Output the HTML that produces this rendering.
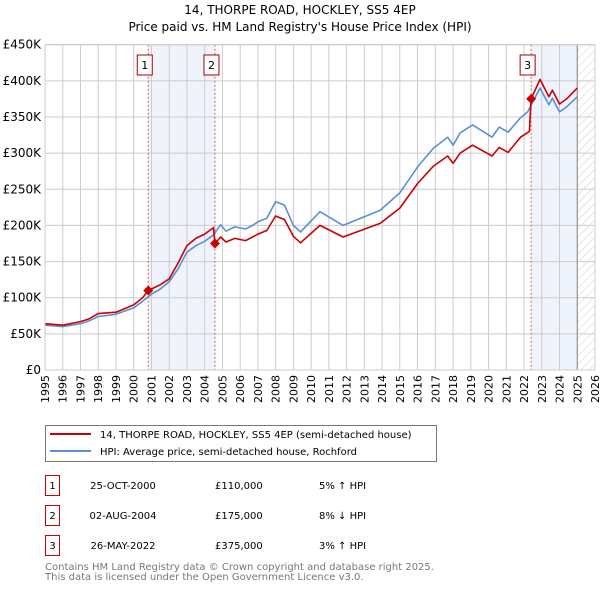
<!DOCTYPE html>
<html><head><meta charset="utf-8"><style>
body{margin:0;background:#fff;font-family:"Liberation Sans","DejaVu Sans",sans-serif;}
svg text{font-family:"DejaVu Sans","Liberation Sans",sans-serif;}
</style></head><body>
<svg id="c" width="600" height="590" xmlns="http://www.w3.org/2000/svg">
<defs><pattern id="hatch" width="6" height="6" patternUnits="userSpaceOnUse" patternTransform="rotate(45)"><line x1="0" y1="0" x2="0" y2="6" stroke="#ccc" stroke-width="1"/></pattern></defs>
<text x="300" y="14" text-anchor="middle" font-size="12" fill="#000">14, THORPE ROAD, HOCKLEY, SS5 4EP</text>
<text x="300" y="31" text-anchor="middle" font-size="12" fill="#000">Price paid vs. HM Land Registry's House Price Index (HPI)</text>
<g id="plot"></g>
<g>
<rect x="45.5" y="425.5" width="391" height="36" fill="#fff" stroke="#777"/>
<line x1="50" y1="434" x2="91" y2="434" stroke="#cc0000" stroke-width="2"/>
<text x="100" y="438" font-size="10">14, THORPE ROAD, HOCKLEY, SS5 4EP (semi-detached house)</text>
<line x1="50" y1="451" x2="91" y2="451" stroke="#5b8fd4" stroke-width="2"/>
<text x="100" y="455" font-size="10">HPI: Average price, semi-detached house, Rochford</text>
</g>
<g font-size="10">
<rect x="45.5" y="475.5" width="14" height="20" fill="#fff" stroke="#cc0000"/><text x="52.5" y="489" text-anchor="middle">1</text>
<text x="123" y="489" text-anchor="middle">25-OCT-2000</text><text x="215" y="489">£110,000</text><text x="319" y="489">5% ↑ HPI</text>
<rect x="45.5" y="505.5" width="14" height="20" fill="#fff" stroke="#cc0000"/><text x="52.5" y="519" text-anchor="middle">2</text>
<text x="123" y="519" text-anchor="middle">02-AUG-2004</text><text x="215" y="519">£175,000</text><text x="319" y="519">8% ↓ HPI</text>
<rect x="45.5" y="535.5" width="14" height="20" fill="#fff" stroke="#cc0000"/><text x="52.5" y="549" text-anchor="middle">3</text>
<text x="123" y="549" text-anchor="middle">26-MAY-2022</text><text x="215" y="549">£375,000</text><text x="319" y="549">3% ↑ HPI</text>
</g>
<text x="45" y="570" font-size="10" fill="#777">Contains HM Land Registry data © Crown copyright and database right 2025.</text>
<text x="45" y="580" font-size="10" fill="#777">This data is licensed under the Open Government Licence v3.0.</text>
</svg>
<script>
const hpiYears=[1995,1996,1997,1997.5,1998,1999,2000,2000.5,2001,2001.5,2002,2002.5,2003,2003.5,2004,2004.5,2004.9,2005.2,2005.7,2006.3,2006.7,2007,2007.5,2008,2008.5,2009,2009.4,2010.5,2011.8,2013.9,2015,2016,2016.9,2017.7,2018,2018.4,2019.1,2020.2,2020.6,2021.1,2021.8,2022.2,2022.9,2023.4,2023.6,2024,2024.4,2025];
const hpiValues=[62,60,64,68,74,77,86,95,105,112,122,140,163,172,178,187,201,192,198,195,200,205,210,233,228,200,191,219,200,221,245,281,307,322,311,328,339,322,336,329,349,357,390,367,376,357,364,378];
const propYears=[1995,1996,1997,1997.5,1998,1999,2000,2000.5,2000.82,2001,2001.5,2002,2002.5,2003,2003.5,2004,2004.5,2004.58,2004.9,2005.2,2005.7,2006.3,2006.7,2007,2007.5,2008,2008.5,2009,2009.4,2010.5,2011.8,2013.9,2015,2016,2016.9,2017.7,2018,2018.4,2019.1,2020.2,2020.6,2021.1,2021.8,2022.3,2022.4,2022.9,2023.4,2023.6,2024,2024.4,2025];
const propValues=[64,62,67,71,78,80,90,100,110,112,118,126,148,172,182,188,197,175,184,177,182,179,184,188,193,213,208,185,176,200,184,203,224,258,282,296,286,300,311,296,308,301,322,330,375,402,378,387,368,375,390];
const saleYears=[2000.82,2004.58,2022.4];
const saleValues=[110,175,375];
const saleLabels=["1","2","3"];
const yTicks=[0,50,100,150,200,250,300,350,400,450];
const yTickLabels=["£0","£50K","£100K","£150K","£200K","£250K","£300K","£350K","£400K","£450K"];
const xTicks=[1995,1996,1997,1998,1999,2000,2001,2002,2003,2004,2005,2006,2007,2008,2009,2010,2011,2012,2013,2014,2015,2016,2017,2018,2019,2020,2021,2022,2023,2024,2025,2026];

const L=45,R=595,T=44.7,B=370,X0=1995,X1=2026,YMAX=450;
const xs=v=>L+(v-X0)/(X1-X0)*(R-L);
const ys=v=>B-v/YMAX*(B-T);
const NS="http://www.w3.org/2000/svg";
const g=document.getElementById('plot');
function mk(t,a,p){const e=document.createElementNS(NS,t);for(const k in a)e.setAttribute(k,a[k]);(p||g).appendChild(e);return e;}

let e=mk('rect',{x:xs(saleYears[0]),y:T,width:xs(saleYears[1])-xs(saleYears[0]),height:B-T,fill:'#eef3fc'});


e=mk('rect',{x:xs(saleYears[2]),y:T,width:xs(2025)-xs(saleYears[2]),height:B-T,fill:'#eef3fc'});


e=mk('rect',{x:xs(2025),y:T,width:R-xs(2025),height:B-T,fill:'url(#hatch)'});



yTicks.forEach((v,i)=>{
  const l=mk('line',{x1:L,x2:R,y1:ys(v),y2:ys(v),stroke:'#ccc','stroke-width':1});
  
  
  const t=mk('text',{x:L-4,y:ys(v)+4,'text-anchor':'end','font-size':12,fill:'#000'});
  t.textContent=yTickLabels[i];
  
  
});
xTicks.forEach(v=>{
  const l=mk('line',{x1:xs(v),x2:xs(v),y1:T,y2:B,stroke:'#ccc','stroke-width':1});
  
  
  const tx=xs(v)+4, ty=375;
  const t=mk('text',{x:tx,y:ty,'text-anchor':'end','font-size':11,fill:'#000',transform:`rotate(-90 ${tx} ${ty})`});
  t.textContent=v;
  
  
});
e=mk('line',{x1:xs(2025),x2:xs(2025),y1:T,y2:B,stroke:'#888','stroke-width':1});



saleYears.forEach((v,i)=>{
  const l=mk('line',{x1:xs(v),x2:xs(v),y1:T,y2:B,stroke:'#e06060','stroke-width':1,'stroke-dasharray':'2,2'});
  
  
  const r=mk('rect',{x:xs(v)-11,y:55,width:15,height:20,fill:'#fff',stroke:'#aa0000'});
  
  
  const t=mk('text',{x:xs(v)-3.5,y:69,'text-anchor':'middle','font-size':11});
  t.textContent=saleLabels[i];
  
  
});

function line(xsA,vsA,c,name){
  const d=xsA.map((x,i)=>(i?'L':'M')+xs(x).toFixed(1)+','+ys(vsA[i]).toFixed(1)).join('');
  const p=mk('path',{d:d,fill:'none',stroke:c,'stroke-width':1.6,'stroke-linejoin':'round'});
  
  
}
line(hpiYears,hpiValues,'#5b8fd4','hpi-line');
line(propYears,propValues,'#cc0000','property-line');
saleYears.forEach((v,i)=>{
  const cx=xs(v),cy=ys(saleValues[i]);
  const p=mk('path',{d:`M${cx},${cy-5}L${cx+5},${cy}L${cx},${cy+5}L${cx-5},${cy}Z`,fill:'#cc0000'});
  
  
});
e=mk('rect',{x:L,y:T,width:R-L,height:B-T,fill:'none',stroke:'#ccc'});


</script>
</body></html>
